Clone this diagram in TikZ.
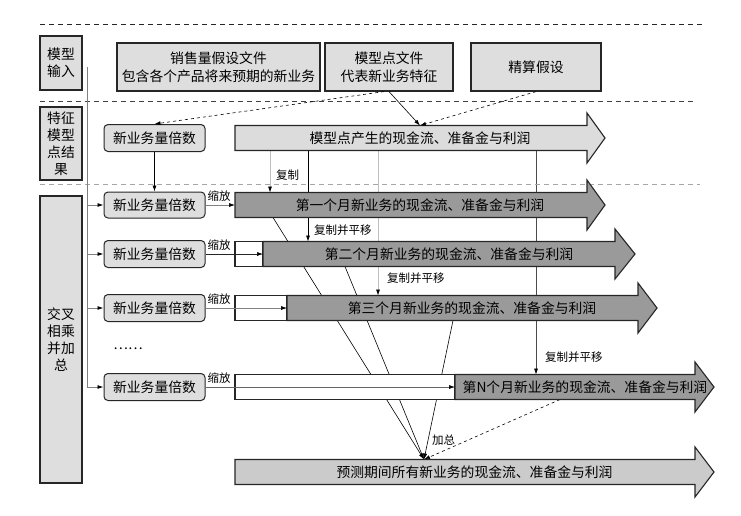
\documentclass[tikz,border=0pt]{standalone}
\usepackage{fontspec}
\setmainfont{Noto Sans CJK SC}
\usetikzlibrary{arrows.meta,calc}
\pgfdeclarelayer{background}
\pgfsetlayers{background,main}
\definecolor{boxgray}{HTML}{DEDEDE}
\definecolor{darkfill}{HTML}{9A9A9A}
\definecolor{lightarr}{HTML}{DCDCDC}
\definecolor{finalfill}{HTML}{CBCBCB}
\newcommand\flowarrow[6]{%
  \coordinate (#1n) at ({#2},{#5-12.5});
  \coordinate (#1s) at ({#2},{#5+12.5});
  \coordinate (#1w) at ({#2},{#5});
  \draw[arrowline, fill=#6] ({#2},{#5-12.5}) -- ({#3},{#5-12.5}) -- ({#3},{#5-25}) -- ({#4},{#5}) -- ({#3},{#5+25}) -- ({#3},{#5+12.5}) -- ({#2},{#5+12.5}) -- cycle;
}
\begin{document}
\begin{tikzpicture}[x=1pt,y=-1pt,
  mainfont/.style={font=\fontsize{13.8}{17}\selectfont},
  lbl/.style={draw=black!85, line width=1.2pt, fill=boxgray, align=center, inner sep=0pt, minimum width=42pt, mainfont},
  topbox/.style={draw=black!85, line width=1.2pt, fill=boxgray, minimum height=48pt, align=center, inner sep=0pt, font=\fontsize{13.8}{18}\selectfont},
  mulbox/.style={draw=black!85, line width=1pt, fill=boxgray, rounded corners=4pt, minimum width=101pt, minimum height=27pt, inner sep=0pt, mainfont},
  arrowline/.style={draw=black!85, line width=1.1pt},
  whitebox/.style={draw=black!85, line width=1.1pt, fill=white, minimum height=25pt, inner sep=0pt},
  atext/.style={inner sep=0pt, mainfont},
  conn/.style={line width=0.6pt, -{Latex[length=6pt,width=4pt,color=black]}},
  gconn/.style={gray, line width=0.8pt, -{Latex[length=6pt,width=4pt,color=black]}},
  small/.style={font=\fontsize{11.5}{13}\selectfont, inner sep=0pt},
  sep/.style={dash pattern=on 5pt off 4pt, line width=0.8pt}
]
\useasboundingbox (0,0) rectangle (741,515);
% separators
\draw[sep, black!85] (40,24) -- (703,24);
\draw[sep, black!75] (40,101) -- (693,101);
\draw[sep, gray!70] (40,184) -- (700,184);
% left labels
\node[lbl, minimum height=54pt] (l1) at (61,63) {模型\\输入};
\node[lbl, minimum height=73pt] (l2) at (61,143.5) {特征\\模型\\点结\\果};
\node[lbl, minimum height=287pt] (l3) at (61,339.5) {交叉\\相乘\\并加\\总};
% top boxes
\node[topbox, minimum width=203pt] (sales) at (218.5,67) {销售量假设文件\\包含各个产品将来预期的新业务};
\node[topbox, minimum width=128pt] (mpf) at (389,67) {模型点文件\\代表新业务特征};
\node[topbox, minimum width=130pt] (act) at (536,67) {精算假设};
% multiplier boxes
\node[mulbox] (b0) at (154.5,138) {新业务量倍数};
\node[mulbox, minimum height=26pt] (b1) at (154.5,205) {新业务量倍数};
\node[mulbox] (b2) at (154.5,254) {新业务量倍数};
\node[mulbox] (b3) at (154.5,308) {新业务量倍数};
\node[mulbox] (bn) at (154.5,387) {新业务量倍数};
\node[mainfont, inner sep=0pt] (dots) at (128,349) {……};
% arrows
\flowarrow{a0}{235}{587}{605}{138}{lightarr}
\node[atext] (t0) at (420,138) {模型点产生的现金流、准备金与利润};
\flowarrow{a1}{235}{587}{605}{205}{darkfill}
\node[atext] (t1) at (420,205) {第一个月新业务的现金流、准备金与利润};
\node[whitebox, minimum width=28pt] (w2) at (249,254) {};
\flowarrow{a2}{263}{615}{635}{254}{darkfill}
\node[atext] (t2) at (449,254) {第二个月新业务的现金流、准备金与利润};
\node[whitebox, minimum width=52pt] (w3) at (261,308) {};
\flowarrow{a3}{287}{638}{657}{308}{darkfill}
\node[atext] (t3) at (472,308) {第三个月新业务的现金流、准备金与利润};
\node[whitebox, minimum width=220pt] (wn) at (345,387) {};
\flowarrow{an}{455}{695}{714}{387}{darkfill}
\node[atext] (tn) at (585,387) {第N个月新业务的现金流、准备金与利润};
\flowarrow{af}{235}{695}{714}{472}{finalfill}
\node[atext] (tf) at (474.5,472) {预测期间所有新业务的现金流、准备金与利润};
% x positions of connectors
\coordinate (xt) at (420,0);
\coordinate (xc0) at (270,0);
\coordinate (xc1) at (308,0);
\coordinate (xc2) at (378,0);
\coordinate (xc3) at (536,0);
\coordinate (s1) at (273,0);
\coordinate (s2) at (345,0);
\coordinate (s3) at (453,0);
\coordinate (s4) at (560,0);
\coordinate (xsum) at (424,0);
\coordinate (trunk) at (87,67);
% top connectors
\draw[conn, dashed] ([xshift=-5pt]mpf.south) -- (b0.north);
\draw[conn] (mpf.south) -- (xt |- a0n);
\draw[conn, dashed] (act.south) -- (xt |- a0n);
\draw[conn] (b0) -- (b1);
% trunk
\draw[gconn] (trunk) -- (trunk |- bn.west) -- (bn.west);
\draw[gconn] (trunk |- b1.west) -- (b1.west);
\draw[gconn] (trunk |- b2.west) -- (b2.west);
\draw[gconn] (trunk |- b3.west) -- (b3.west);
% scaling connectors
\draw[conn, gray] (b1.east) -- (a1w);
\draw[conn, black!85] (b2.east) -- (a2w);
\draw[conn, gray] (b3.east) -- (a3w);
\draw[conn, black!60] (bn.east) -- (anw);
\node[small] (z1) at (219,196) {缩放};
\node[small] (z2) at (219,245) {缩放};
\node[small] (z3) at (219,299) {缩放};
\node[small] (z4) at (219,378) {缩放};
% labels
\node[small, anchor=west] (lc0) at (276,175) {复制};
\node[small, anchor=west] (lc1) at (314,230) {复制并平移};
\node[small, anchor=west] (lc2) at (387,278) {复制并平移};
\node[small, anchor=west] (lc3) at (545,357) {复制并平移};
\node[small, anchor=west] (lsum) at (432,440) {加总};
% connectors behind the arrows
\begin{pgfonlayer}{background}
\draw[conn, gray!50] (xc0 |- a0s) -- (xc0 |- a1n);
\draw[conn, black] (xc1 |- a0s) -- (xc1 |- a2n);
\draw[conn, gray!50] (xc2 |- a0s) -- (xc2 |- a3n);
\draw[conn, black!70] (xc3 |- a0s) -- (xc3 |- ann);
\draw[conn] (s1 |- a1s) -- (xsum |- afn);
\draw[conn] (s2 |- a2s) -- (xsum |- afn);
\draw[conn] (s3 |- a3s) -- (xsum |- afn);
\draw[conn, dashed] (s4 |- ans) -- (xsum |- afn);
\end{pgfonlayer}
\end{tikzpicture}
\end{document}
